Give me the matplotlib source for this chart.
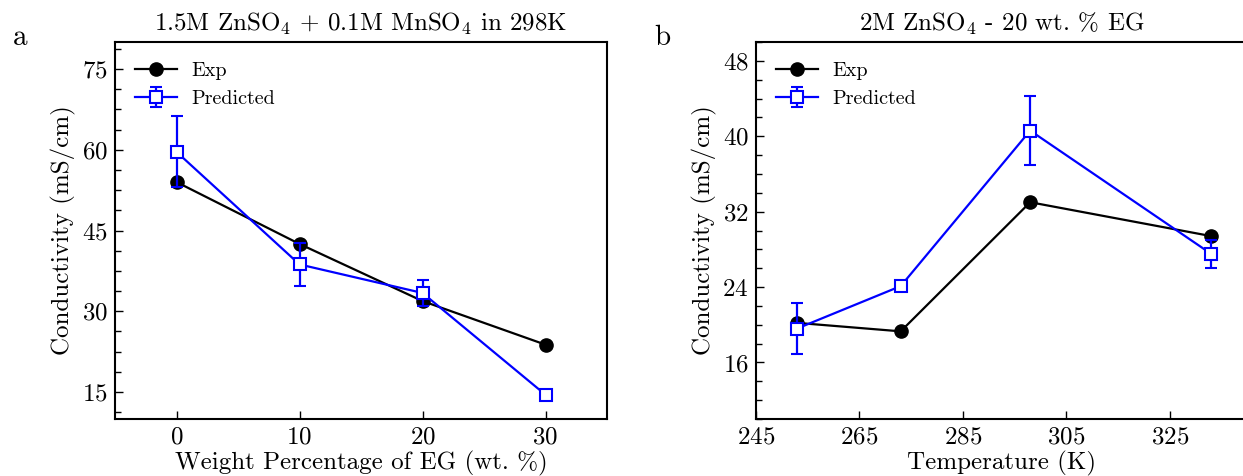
import matplotlib
matplotlib.use("Agg")
import matplotlib.pyplot as plt
from matplotlib.ticker import AutoMinorLocator, MultipleLocator

plt.rcParams['font.family'] = ['cmr10', 'DejaVu Serif']
plt.rcParams['mathtext.fontset'] = 'cm'
plt.rcParams['axes.formatter.use_mathtext'] = True
plt.rcParams['axes.unicode_minus'] = False

# Panel a data
eg_wt = [0, 10, 20, 30]
exp_a = [54.0, 42.5, 31.9, 23.8]
pred_a = [59.6, 38.7, 33.4, 14.5]
pred_a_err = [6.6, 4.0, 2.35, 0.6]

# Panel b data
temp_k = [253, 273, 298, 333]
exp_b = [20.2, 19.3, 33.0, 29.4]
pred_b = [19.6, 24.1, 40.6, 27.5]
pred_b_err = [2.75, 0.45, 3.7, 1.5]

W, H = 1243, 476
fig = plt.figure(figsize=(W / 100, H / 100), dpi=100)

ax1 = fig.add_axes([115 / W, (H - 419) / H, 492 / W, 377 / H])
ax2 = fig.add_axes([755.7 / W, (H - 419) / H, 492 / W, 377 / H])

FS = 18

def style(ax):
    ax.tick_params(direction='in', which='both', top=False, right=False,
                   labelsize=FS, pad=5)
    ax.tick_params(which='major', length=6, width=1)
    ax.tick_params(which='minor', length=4, width=1)
    for s in ax.spines.values():
        s.set_linewidth(1.5)

# Panel a
ax1.plot(eg_wt, exp_a, '-o', color='black', lw=1.6, ms=9.5, label='Exp')
ax1.errorbar(eg_wt, pred_a, yerr=pred_a_err, fmt='-s', color='blue', lw=1.6,
             ms=9, mfc='white', mec='blue', mew=1.5, capsize=4, capthick=1.5,
             elinewidth=1.6, label='Predicted')
ax1.set_xlim(-5, 35)
ax1.set_ylim(10, 80)
ax1.xaxis.set_major_locator(MultipleLocator(10))
ax1.yaxis.set_major_locator(MultipleLocator(15))
ax1.yaxis.set_minor_locator(AutoMinorLocator(4))
ax1.set_xlabel('Weight Percentage of EG (wt. %)', fontsize=FS, labelpad=2)
ax1.set_ylabel('Conductivity (mS/cm)', fontsize=FS, labelpad=4)
ax1.set_title(r'1.5M ZnSO$_4$ + 0.1M MnSO$_4$ in 298K', fontsize=FS, pad=8)
style(ax1)
ax1.legend(loc='upper left', frameon=False, fontsize=14.5, handlelength=2.1,
           borderaxespad=0.6, labelspacing=0.5, handletextpad=0.7)

# Panel b
ax2.plot(temp_k, exp_b, '-o', color='black', lw=1.6, ms=9.5, label='Exp')
ax2.errorbar(temp_k, pred_b, yerr=pred_b_err, fmt='-s', color='blue', lw=1.6,
             ms=9, mfc='white', mec='blue', mew=1.5, capsize=4, capthick=1.5,
             elinewidth=1.6, label='Predicted')
ax2.set_xlim(245, 340)
ax2.set_ylim(10, 50)
ax2.set_xticks([245, 265, 285, 305, 325])
ax2.yaxis.set_major_locator(MultipleLocator(8))
ax2.yaxis.set_minor_locator(AutoMinorLocator(4))
ax2.set_xlabel('Temperature (K)', fontsize=FS, labelpad=2)
ax2.set_ylabel('Conductivity (mS/cm)', fontsize=FS, labelpad=4)
ax2.set_title(r'2M ZnSO$_4$ - 20 wt. % EG', fontsize=FS, pad=8)
style(ax2)
ax2.legend(loc='upper left', frameon=False, fontsize=14.5, handlelength=2.1,
           borderaxespad=0.6, labelspacing=0.5, handletextpad=0.7)

fig.text(20 / W, 1 - 38 / H, 'a', fontsize=21, ha='center', va='center')
fig.text(662 / W, 1 - 38 / H, 'b', fontsize=21, ha='center', va='center')

fig.savefig('out.png', dpi=100)
